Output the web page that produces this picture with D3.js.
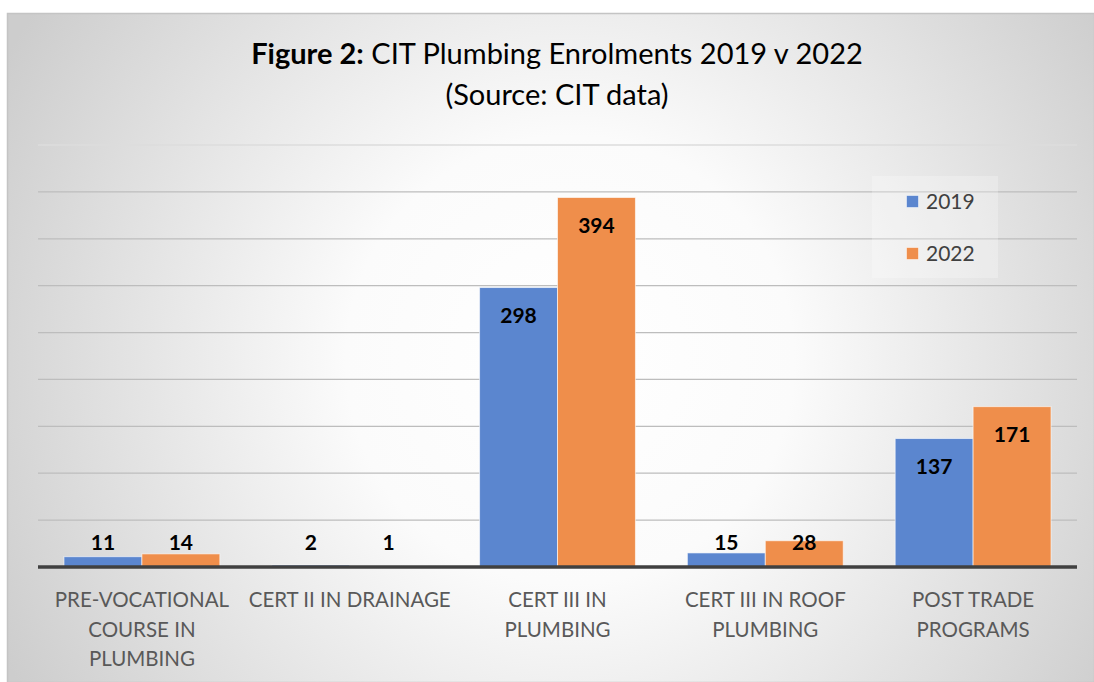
<!DOCTYPE html>
<html>
<head>
<meta charset="utf-8">
<script src="https://cdn.jsdelivr.net/npm/d3@7"></script>
<style>
  body { margin: 0; background: #fff; }
  svg { display: block; font-family: Lato, "Open Sans", sans-serif; }
</style>
</head>
<body>
<div id="chart"></div>
<script>
// datos
const categories = [
  ["PRE-VOCATIONAL", "COURSE IN", "PLUMBING"],
  ["CERT II IN DRAINAGE"],
  ["CERT III IN", "PLUMBING"],
  ["CERT III IN ROOF", "PLUMBING"],
  ["POST TRADE", "PROGRAMS"]
];
const years = ["2019", "2022"];
const values2019 = [11, 2, 298, 15, 137];
const values2022 = [14, 1, 394, 28, 171];
const yTicks = [0, 50, 100, 150, 200, 250, 300, 350, 400, 450];
const colors = ["#5b86cf", "#ef8e4b"];

const W = 1094, H = 682;
const svg = d3.select("#chart").append("svg").attr("width", W).attr("height", H);

// fondo con degradado radial
const defs = svg.append("defs");
const grad = defs.append("radialGradient").attr("id", "bg")
  .attr("gradientUnits", "userSpaceOnUse")
  .attr("cx", 570).attr("cy", 360).attr("r", 640);
grad.append("stop").attr("offset", "0%").attr("stop-color", "#ffffff");
grad.append("stop").attr("offset", "35%").attr("stop-color", "#fbfbfb");
grad.append("stop").attr("offset", "100%").attr("stop-color", "#cdcdcd");

svg.append("rect").attr("x", 7.5).attr("y", 13.5).attr("width", W - 7).attr("height", H - 13)
  .attr("fill", "url(#bg)").attr("stroke", "#c4c4c4").attr("stroke-width", 1.5);

const plotLeft = 38, plotRight = 1077, plotTop = 145, plotBottom = 567;

const x = d3.scaleBand().domain(d3.range(categories.length)).range([plotLeft, plotRight]).paddingInner(0.25).paddingOuter(0.125);
const xs = d3.scaleBand().domain(years).range([0, x.bandwidth()]);
const y = d3.scaleLinear().domain([0, 450]).range([plotBottom, plotTop]);

// lineas de cuadricula
svg.append("g")
  .selectAll("line")
  .data(yTicks.filter((d) => d > 0))
  .enter()
  .append("line")
  .attr("x1", plotLeft)
  .attr("x2", plotRight)
  .attr("y1", (d) => y(d))
  .attr("y2", (d) => y(d))
  .attr("stroke", (d) => (d === 450 ? "#dcdcdc" : "#bdbdbd"))
  .attr("stroke-width", 1.3);

// titulo
const title = svg.append("text").attr("x", 557).attr("y", 64).attr("text-anchor", "middle")
  .attr("font-size", 29).attr("fill", "#000");
title.append("tspan").attr("font-weight", "bold").text("Figure 2:");
title.append("tspan").text(" CIT Plumbing Enrolments 2019 v 2022");
svg.append("text").attr("x", 557).attr("y", 105).attr("text-anchor", "middle")
  .attr("font-size", 29).attr("fill", "#000").text("(Source: CIT data)");

// barras
const rows = categories.map((c, i) => ({ i: i, vals: [values2019[i], values2022[i]] }));
const groups = svg.append("g").selectAll("g").data(rows).enter().append("g")
  .attr("transform", (d) => `translate(${x(d.i)},0)`);

groups.selectAll("rect")
  .data((d) => d.vals.map((v, k) => ({ year: years[k], value: v, k: k })))
  .enter()
  .append("rect")
  .attr("x", (d) => xs(d.year))
  .attr("y", (d) => y(d.value))
  .attr("width", xs.bandwidth())
  .attr("height", (d) => plotBottom - y(d.value))
  .attr("fill", (d) => colors[d.k])
  .attr("stroke", "#ffffff")
  .attr("stroke-opacity", 0.6)
  .attr("stroke-width", 1);

groups.selectAll("text")
  .data((d) => d.vals.map((v, k) => ({ year: years[k], value: v })))
  .enter()
  .append("text")
  .attr("x", (d) => xs(d.year) + xs.bandwidth() / 2)
  .attr("y", (d) => Math.min(y(d.value) + 35, plotBottom - 17))
  .attr("text-anchor", "middle")
  .attr("font-size", 21)
  .attr("font-weight", "bold")
  .attr("fill", "#000")
  .text((d) => d.value);

// eje
svg.append("line").attr("x1", plotLeft).attr("x2", plotRight).attr("y1", plotBottom).attr("y2", plotBottom)
  .attr("stroke", "#404040").attr("stroke-width", 3.5);

svg.append("g").selectAll("text").data(categories).enter().append("text")
  .attr("text-anchor", "middle")
  .attr("font-size", 20.5)
  .attr("fill", "#595959")
  .attr("transform", (d, i) => `translate(${x(i) + x.bandwidth() / 2},607)`)
  .selectAll("tspan")
  .data((d) => d)
  .enter()
  .append("tspan")
  .attr("x", 0)
  .attr("y", (d, j) => j * 29.5)
  .text((d) => d);

// leyenda
const legend = svg.append("g");
legend.append("rect").attr("x", 872).attr("y", 176).attr("width", 126).attr("height", 102)
  .attr("fill", "#ffffff").attr("fill-opacity", 0.25);
years.forEach((yr, k) => {
  legend.append("rect").attr("x", 906.5).attr("y", 195.5 + k * 52).attr("width", 12).attr("height", 12)
    .attr("fill", colors[k]).attr("stroke", "#ffffff").attr("stroke-opacity", 0.5);
  legend.append("text").attr("x", 926).attr("y", 208.5 + k * 52).attr("font-size", 21)
    .attr("fill", "#404040").text(yr);
});
</script>
</body>
</html>
